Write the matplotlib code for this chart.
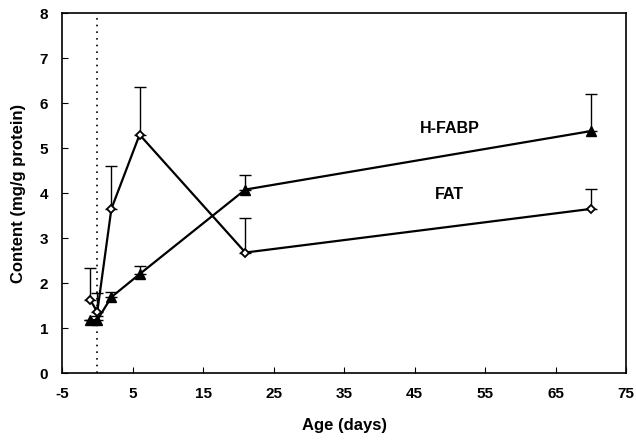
import matplotlib.pyplot as plt

# Alder (dagar) och innehall (mg/g protein)
age = [-1, 0, 2, 6, 21, 70]
fat = [1.63, 1.36, 3.65, 5.3, 2.68, 3.65]
fat_err = [0.7, 0.42, 0.95, 1.05, 0.77, 0.44]
hfabp = [1.18, 1.18, 1.69, 2.2, 4.08, 5.38]
hfabp_err = [0.0, 0.1, 0.12, 0.18, 0.32, 0.82]

x_ticks = [-5, 5, 15, 25, 35, 45, 55, 65, 75]
y_ticks = [0, 1, 2, 3, 4, 5, 6, 7, 8]

plt.rcParams['font.family'] = ['Liberation Sans', 'DejaVu Sans']
plt.rcParams['font.weight'] = 'bold'
plt.rcParams['axes.unicode_minus'] = False

fig = plt.figure(figsize=(6.36, 4.4), dpi=100)
ax = fig.add_axes([0.0975, 0.152, 0.887, 0.818])

# Vertikal prickad linje vid fodseln
ax.axvline(0, color='black', linestyle=(0, (1, 3)), linewidth=1.2, zorder=1)

# Felstaplar (bara uppat)
ax.errorbar(age, fat, yerr=[[0] * len(fat), fat_err], fmt='none',
            ecolor='black', elinewidth=1, capsize=4, capthick=1, zorder=2)
ax.errorbar(age, hfabp, yerr=[[0] * len(hfabp), hfabp_err], fmt='none',
            ecolor='black', elinewidth=1, capsize=4, capthick=1, zorder=2)

ax.plot(age, fat, color='black', linewidth=1.6, marker='D', markersize=4.5,
        markerfacecolor='white', markeredgecolor='black', markeredgewidth=1.3, zorder=3)
ax.plot(age, hfabp, color='black', linewidth=1.6, marker='^', markersize=7,
        markerfacecolor='black', markeredgecolor='black', zorder=3)

ax.text(50, 5.44, 'H-FABP', fontsize=11.5, fontweight='bold', ha='center', va='center')
ax.text(50, 3.96, 'FAT', fontsize=11.5, fontweight='bold', ha='center', va='center')

ax.set_xlim(-5, 75)
ax.set_ylim(0, 8)
ax.set_xticks(x_ticks)
ax.set_yticks(y_ticks)
ax.tick_params(direction='in', length=4, labelsize=11, pad=10)
for lab in ax.get_xticklabels() + ax.get_yticklabels():
    lab.set_fontweight('bold')

ax.set_xlabel('Age (days)', fontsize=12, fontweight='bold', labelpad=12)
ax.set_ylabel('Content (mg/g protein)', fontsize=12, fontweight='bold', labelpad=10)

for s in ax.spines.values():
    s.set_linewidth(1.2)

fig.savefig('out.png', dpi=100)
